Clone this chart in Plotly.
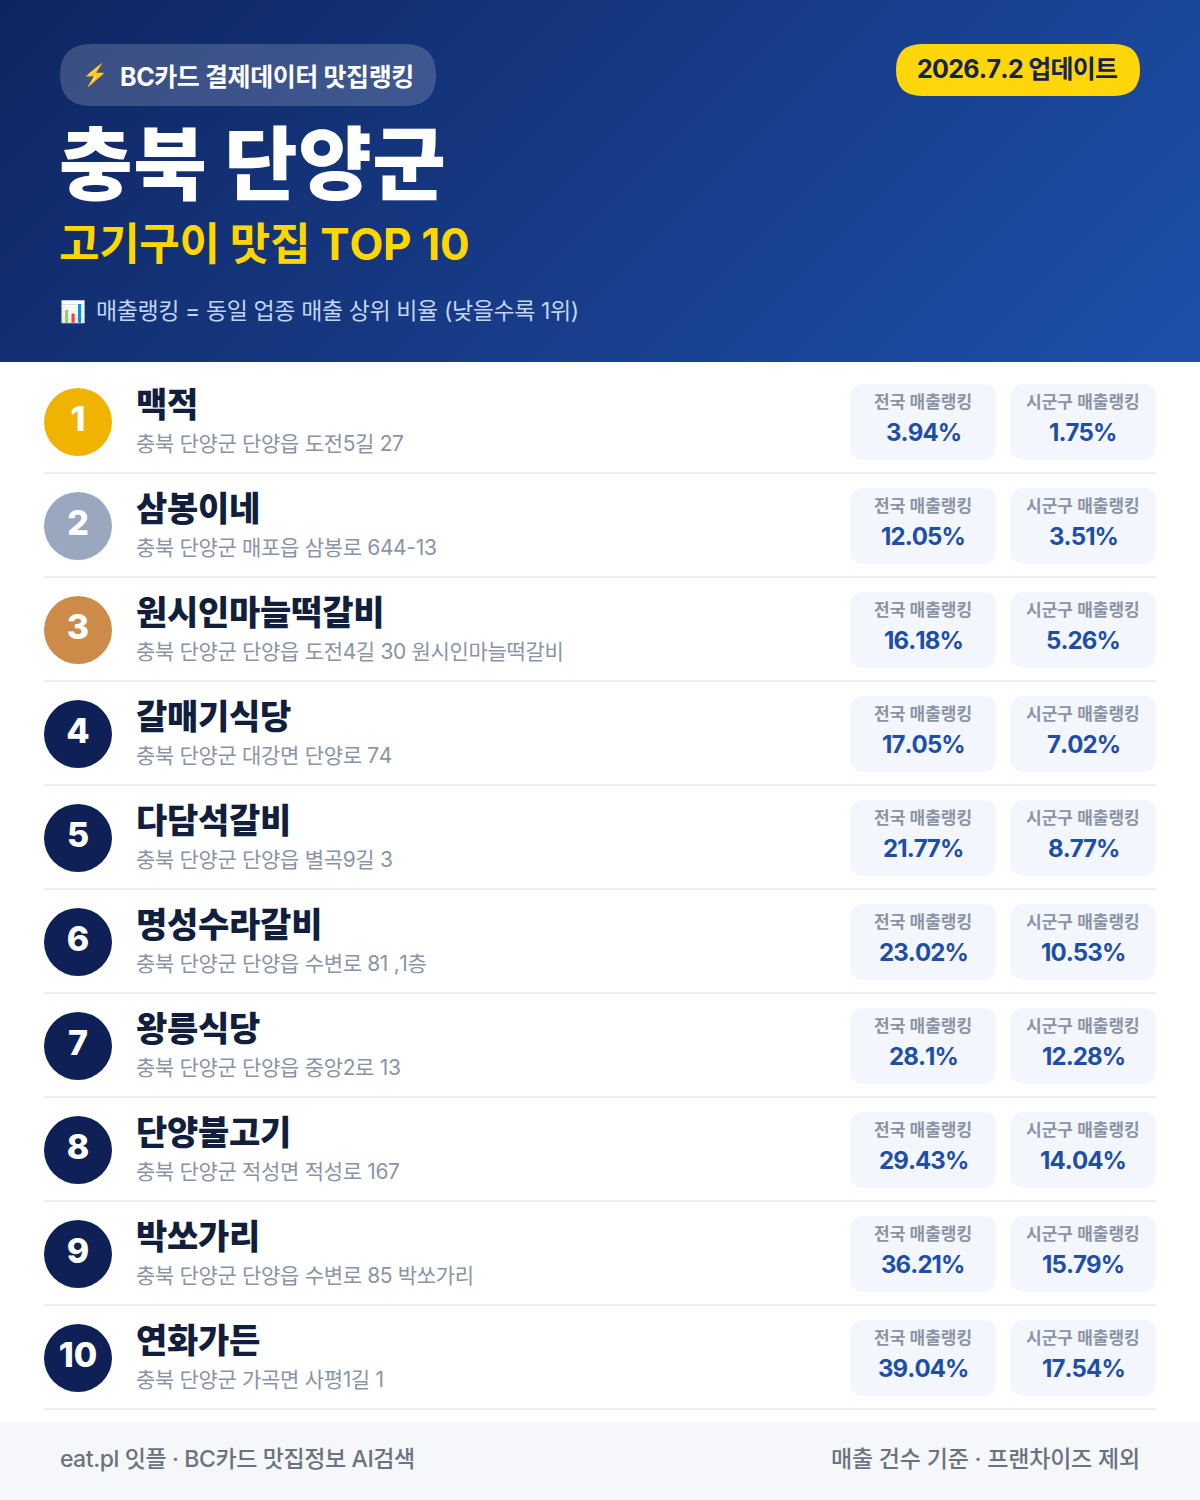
import plotly.graph_objects as go

# rows, top to bottom
ranks = list(range(1, 11))
names = ["맥적", "삼봉이네", "원시인마늘떡갈비", "갈매기식당", "다담석갈비",
         "명성수라갈비", "왕릉식당", "단양불고기", "박쏘가리", "연화가든"]
addresses = [
    "충북 단양군 단양읍 도전5길 27",
    "충북 단양군 매포읍 삼봉로 644-13",
    "충북 단양군 단양읍 도전4길 30 원시인마늘떡갈비",
    "충북 단양군 대강면 단양로 74",
    "충북 단양군 단양읍 별곡9길 3",
    "충북 단양군 단양읍 수변로 81 ,1층",
    "충북 단양군 단양읍 중앙2로 13",
    "충북 단양군 적성면 적성로 167",
    "충북 단양군 단양읍 수변로 85 박쏘가리",
    "충북 단양군 가곡면 사평1길 1",
]
national_rank = ["3.94%", "12.05%", "16.18%", "17.05%", "21.77%",
                 "23.02%", "28.1%", "29.43%", "36.21%", "39.04%"]
sigungu_rank = ["1.75%", "3.51%", "5.26%", "7.02%", "8.77%",
                "10.53%", "12.28%", "14.04%", "15.79%", "17.54%"]

FONT = "Inter, Noto Sans CJK KR"
ROW_H = 104
NAVY = "#0f2057"
BLUE = "#1e4fa8"
GREY = "#8a94a6"
medal_colors = ["#f0b400", "#9aa8bf", "#cd8b4a"]


def rounded_rect(x0, y0, x1, y1, r):
    return (
        f"M{x0+r},{y0} L{x1-r},{y0} Q{x1},{y0} {x1},{y0+r} L{x1},{y1-r} Q{x1},{y1} {x1-r},{y1} "
        f"L{x0+r},{y1} Q{x0},{y1} {x0},{y1-r} L{x0},{y0+r} Q{x0},{y0} {x0+r},{y0} Z"
    )


def label(x, y, text, size, color, weight=400, anchor="left", spacing=0):
    if spacing:
        text = f"<span style='letter-spacing:{spacing}px;font-kerning:none'>{text}</span>"
    fig.add_annotation(
        x=x, y=y, text=text, showarrow=False, xanchor=anchor, yanchor="middle",
        font=dict(family=FONT, size=size, color=color, weight=weight),
    )


fig = go.Figure()

# header gradient, 135deg
gx = list(range(0, 1201, 20))
gy = list(range(0, 361, 20)) + [361]
gz = [[x + y * 1.0 for x in gx] for y in gy]
fig.add_trace(go.Heatmap(
    x=gx, y=gy, z=gz, zsmooth="best", showscale=False, hoverinfo="skip",
    colorscale=[[0, "#0f2561"], [1, "#1e50ab"]],
))

shapes = [
    dict(type="path", path=rounded_rect(60, 44, 436, 106, 31), fillcolor="rgba(255,255,255,0.18)", line_width=0),
    dict(type="path", path=rounded_rect(896, 44, 1140, 96, 26), fillcolor="#ffd60a", line_width=0),
    dict(type="rect", x0=0, x1=1200, y0=1422, y1=1500, fillcolor="#f5f7fb", line_width=0),
]
for i in range(len(names)):
    top = ROW_H * i
    shapes.append(dict(type="line", x0=44, x1=1156, y0=473 + top, y1=473 + top, line=dict(color="#eceef2", width=2)))
    for x0 in (850, 1010):
        shapes.append(dict(type="path", path=rounded_rect(x0, 384 + top, x0 + 146, 460 + top, 14),
                           fillcolor="#f3f6fc", line_width=0))
fig.update_layout(shapes=shapes)

# rank circles
fig.add_trace(go.Scatter(
    x=[78] * len(ranks),
    y=[422 + ROW_H * i for i in range(len(ranks))],
    mode="markers+text",
    marker=dict(size=68, color=[medal_colors[i] if i < 3 else NAVY for i in range(len(ranks))]),
    text=[str(r) for r in ranks],
    textposition="middle center",
    textfont=dict(family=FONT, size=34, color="white", weight=800),
    hoverinfo="skip",
))

# header text
label(80, 75, "⚡", 21, "#ffc83d")
label(118, 77, "BC카드 결제데이터 맛집랭킹", 25, "white", 700, spacing=-0.4)
label(1017, 69, "2026.7.2 업데이트", 25, "#14234f", 700, "center", spacing=-0.7)
label(57, 163, "충북 단양군", 80, "white", 900, spacing=0.6)
label(57, 244, "고기구이 맛집 TOP 10", 44, "#ffd600", 700, spacing=-0.3)
label(58, 311, "📊", 21, "white")
label(94, 311, "매출랭킹 = 동일 업종 매출 상위 비율 (낮을수록 1위)", 23, "#c3d5f3", spacing=-0.4)

# rows
for i in range(len(names)):
    top = ROW_H * i
    label(133.5, 404 + top, names[i], 34, "#111e3c", 900, spacing=-0.25)
    label(134, 443 + top, addresses[i], 21, GREY, spacing=-0.33)
    label(923, 401.5 + top, "전국 매출랭킹", 17, GREY, 600, "center")
    label(923, 432 + top, national_rank[i], 24, BLUE, 700, "center", spacing=-0.9)
    label(1083, 401.5 + top, "시군구 매출랭킹", 17, GREY, 600, "center")
    label(1083, 432 + top, sigungu_rank[i], 24, BLUE, 700, "center", spacing=-0.9)

# footer
label(58, 1459, "eat.pl 잇플 · BC카드 맛집정보 AI검색", 23, "#6b7280", 500, spacing=-0.4)
label(1142, 1459, "매출 건수 기준 · 프랜차이즈 제외", 23, "#6b7280", 500, "right", spacing=-0.2)

fig.update_layout(
    width=1200, height=1500,
    margin=dict(l=0, r=0, t=0, b=0),
    paper_bgcolor="white", plot_bgcolor="white",
    showlegend=False,
    xaxis=dict(range=[0, 1200], visible=False, fixedrange=True),
    yaxis=dict(range=[1500, 0], visible=False, fixedrange=True),
)

fig.write_html("out.html", post_script="document.body.style.margin='0';", config=dict(displayModeBar=False))
